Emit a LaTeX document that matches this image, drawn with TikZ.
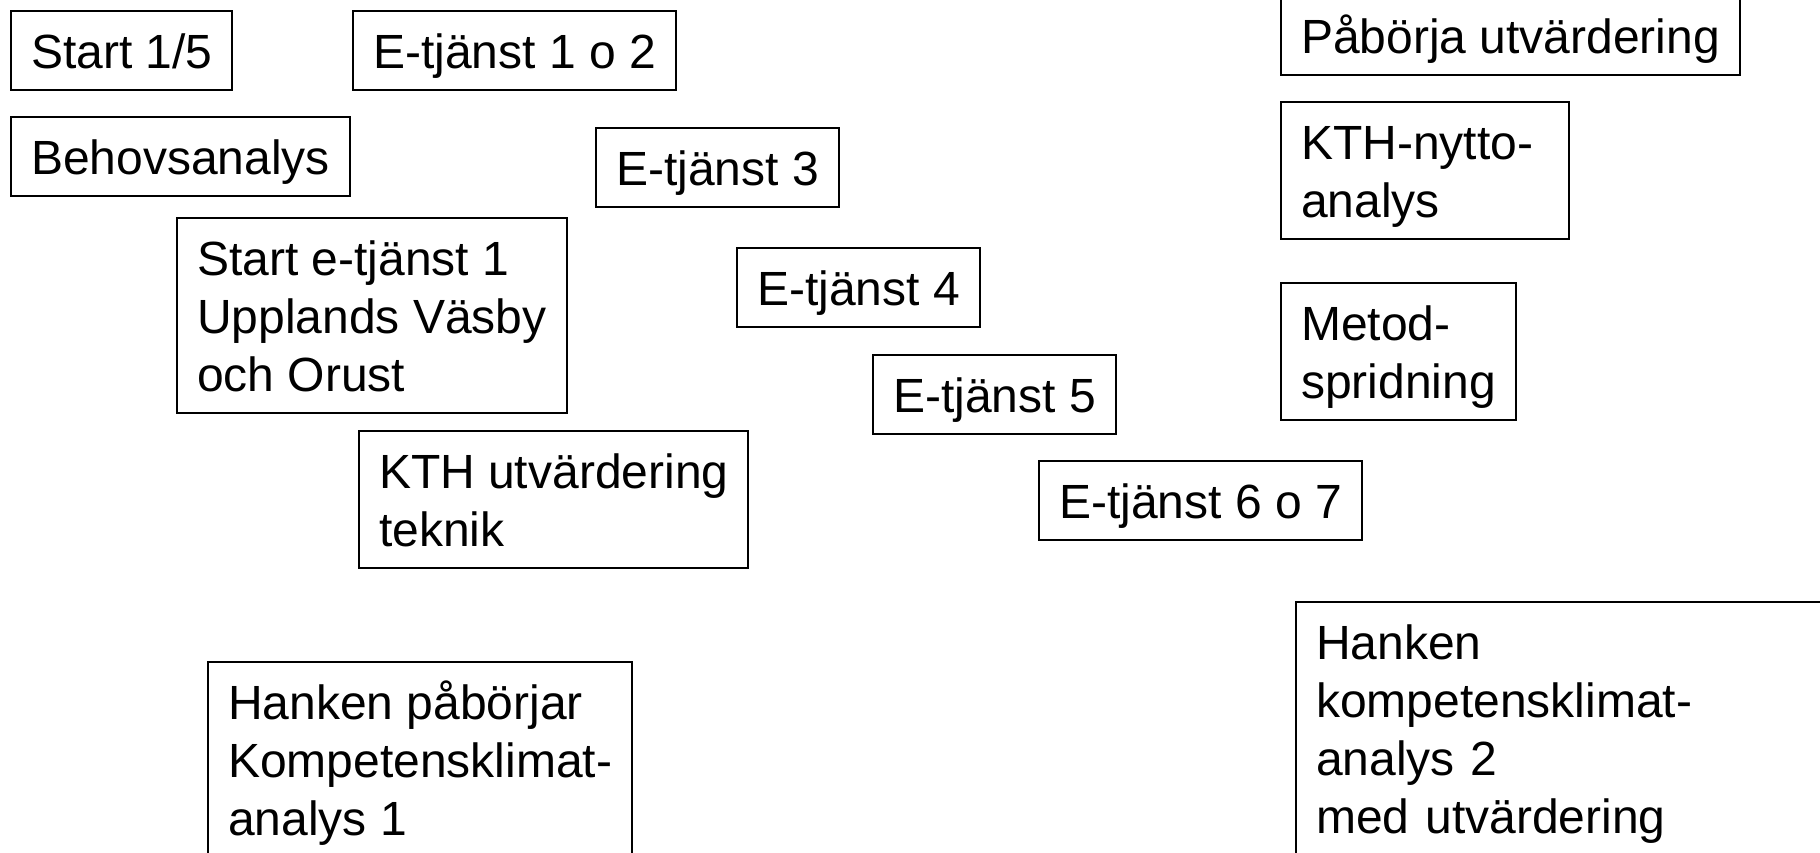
\documentclass[tikz,border=0pt]{standalone}
\usepackage{fontspec}
\setmainfont{Liberation Sans}
\newcommand\topstr{\rule{0pt}{47pt}}
\newcommand\botstr{\rule[-12pt]{0pt}{12pt}}
\begin{document}
\begin{tikzpicture}[x=1pt,y=-1pt,
  tbox/.style={draw=black, line width=2pt, anchor=north west, align=left,
    inner xsep=20pt, inner ysep=10pt, font=\fontsize{48}{58}\selectfont}]
\useasboundingbox (0,0) rectangle (1820,852);
\clip (0,0) rectangle (1820,852);
\node[tbox] (s15)  at (10,10)   {\topstr Start 1/5\botstr};
\node[tbox] (e12)  at (352,10)  {\topstr E-tjänst 1 o 2\botstr};
\node[tbox] (pab)  at (1280,-5) {\topstr Påbörja utvärdering\botstr};
\node[tbox] (beh)  at (10,116)  {\topstr Behovsanalys\botstr};
\node[tbox] (e3)   at (595,127) {\topstr E-tjänst 3\botstr};
\node[tbox, text width=248pt] (kthn) at (1280,101) {\topstr KTH-nytto-\\analys\botstr};
\node[tbox] (se1)  at (176,217) {\topstr Start e-tjänst 1\\Upplands Väsby\\och Orust\botstr};
\node[tbox] (e4)   at (736,247) {\topstr E-tjänst 4\botstr};
\node[tbox] (met)  at (1280,282) {\topstr Metod-\\spridning\botstr};
\node[tbox] (e5)   at (872,354) {\topstr E-tjänst 5\botstr};
\node[tbox] (kthu) at (358,430) {\topstr KTH utvärdering\\teknik\botstr};
\node[tbox] (e67)  at (1038,460) {\topstr E-tjänst 6 o 7\botstr};
\node[tbox] (han1) at (207,661) {\topstr Hanken påbörjar\\Kompetensklimat-\\analys 1\botstr};
\node[tbox, text width=560pt] (han2) at (1295,601) {\topstr Hanken\\kompetensklimat-\\analys 2\\med utvärdering\botstr};
\end{tikzpicture}
\end{document}
